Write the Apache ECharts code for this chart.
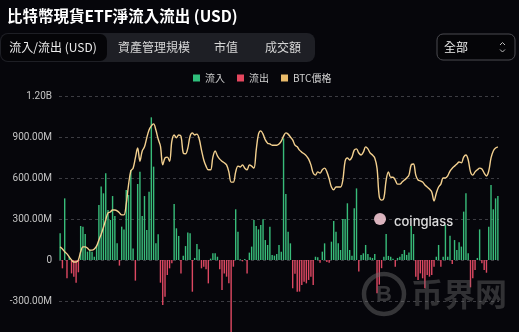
<!DOCTYPE html>
<html>
<head>
<meta charset="utf-8">
<script src="https://cdn.jsdelivr.net/npm/echarts@6/dist/echarts.min.js"></script>
<style>
html,body{margin:0;padding:0;background:#06060b;width:519px;height:332px;overflow:hidden;}
#main{width:519px;height:360px;}
</style>
</head>
<body>
<div id="main"></div>
<script>
// Trading days (category axis, labels hidden in the reference)
const dates = [
'2024-01-11','2024-01-12','2024-01-16','2024-01-17','2024-01-18','2024-01-19','2024-01-22','2024-01-23','2024-01-24','2024-01-25','2024-01-26','2024-01-29','2024-01-30','2024-01-31',
'2024-02-01','2024-02-02','2024-02-05','2024-02-06','2024-02-07','2024-02-08','2024-02-09','2024-02-12','2024-02-13','2024-02-14','2024-02-15','2024-02-16','2024-02-20','2024-02-21','2024-02-22','2024-02-23','2024-02-26','2024-02-27','2024-02-28','2024-02-29',
'2024-03-01','2024-03-04','2024-03-05','2024-03-06','2024-03-07','2024-03-08','2024-03-11','2024-03-12','2024-03-13','2024-03-14','2024-03-15','2024-03-18','2024-03-19','2024-03-20','2024-03-21','2024-03-22','2024-03-25','2024-03-26','2024-03-27','2024-03-28',
'2024-04-01','2024-04-02','2024-04-03','2024-04-04','2024-04-05','2024-04-08','2024-04-09','2024-04-10','2024-04-11','2024-04-12','2024-04-15','2024-04-16','2024-04-17','2024-04-18','2024-04-19','2024-04-22','2024-04-23','2024-04-24','2024-04-25','2024-04-26','2024-04-29','2024-04-30',
'2024-05-01','2024-05-02','2024-05-03','2024-05-06','2024-05-07','2024-05-08','2024-05-09','2024-05-10','2024-05-13','2024-05-14','2024-05-15','2024-05-16','2024-05-17','2024-05-20','2024-05-21','2024-05-22','2024-05-23','2024-05-24','2024-05-28','2024-05-29','2024-05-30','2024-05-31',
'2024-06-03','2024-06-04','2024-06-05','2024-06-06','2024-06-07','2024-06-10','2024-06-11','2024-06-12','2024-06-13','2024-06-14','2024-06-17','2024-06-18','2024-06-20','2024-06-21','2024-06-24','2024-06-25','2024-06-26','2024-06-27','2024-06-28',
'2024-07-01','2024-07-02','2024-07-03','2024-07-05','2024-07-08','2024-07-09','2024-07-10','2024-07-11','2024-07-12','2024-07-15','2024-07-16','2024-07-17','2024-07-18','2024-07-19','2024-07-22','2024-07-23','2024-07-24','2024-07-25','2024-07-26','2024-07-29','2024-07-30','2024-07-31',
'2024-08-01','2024-08-02','2024-08-05','2024-08-06','2024-08-07','2024-08-08','2024-08-09','2024-08-12','2024-08-13','2024-08-14','2024-08-15','2024-08-16','2024-08-19','2024-08-20','2024-08-21','2024-08-22','2024-08-23','2024-08-26','2024-08-27','2024-08-28','2024-08-29','2024-08-30',
'2024-09-03','2024-09-04','2024-09-05','2024-09-06','2024-09-09','2024-09-10','2024-09-11','2024-09-12','2024-09-13','2024-09-16','2024-09-17','2024-09-18','2024-09-19','2024-09-20','2024-09-23','2024-09-24','2024-09-25','2024-09-26','2024-09-27','2024-09-30',
'2024-10-01','2024-10-02','2024-10-03','2024-10-04','2024-10-07','2024-10-08','2024-10-09','2024-10-10','2024-10-11','2024-10-14','2024-10-15','2024-10-16'
];

// Daily net flow, USD millions (positive = inflow, negative = outflow)
const netFlow = [
195,-61,451,-134,25,-98,-122,-166,-90,249,
244,190,61,73,61,24,110,402,537,488,
634,366,293,468,322,122,-41,244,224,512,
476,659,85,-151,556,646,322,468,220,500,
1044,683,122,188,-166,-329,-268,-110,-61,-24,
410,232,176,-98,32,102,202,195,-232,15,
117,78,-61,-49,-68,-171,10,49,49,24,
-68,-220,-98,-122,-171,-563,-49,371,207,5,
-10,8,-98,54,98,293,249,224,256,298,
146,110,244,37,32,44,110,60,890,483,
207,122,-207,-100,-232,-231,-183,-159,-171,-146,
-122,-183,24,20,-20,61,122,-15,-20,134,
285,207,122,73,300,300,415,73,32,378,
524,-85,37,49,110,44,20,15,44,-244,
-180,-60,24,190,30,24,10,-49,15,24,
44,73,37,54,249,190,-122,-146,-98,-134,
-207,-110,-122,-110,-49,24,110,-49,24,256,
24,178,-30,146,73,129,98,354,488,49,
-200,-134,-73,15,224,-24,-73,-93,244,549,
371,451,468
];

// BTC price, USD
const btcPrice = [
43200,42700,42000,41500,40700,40000,39500,39500,40000,42000,
43200,43200,42900,42400,42400,42700,43400,44900,46300,48000,
49800,51500,51700,52200,52200,52000,51500,51000,51000,53700,
58300,61700,62400,64900,67300,64100,66600,67600,69800,71700,
72700,73200,71700,69500,67800,63200,64900,65100,64100,69000,
70500,69800,70500,70200,66100,65900,67300,70200,71000,70500,
70700,69500,66800,64400,62900,62000,62000,65100,66600,65400,
64600,64100,63700,63200,61500,59000,59000,61500,62900,62700,
63200,62400,62000,63200,62900,62400,66800,70700,71500,70700,
69300,68500,68300,68000,68000,68000,68300,69000,70200,71000,
70700,70000,69300,68000,67600,66800,66300,65900,65400,64600,
63200,61200,60700,61500,61200,62000,62400,61500,59800,57800,
57100,57800,57800,57800,59500,64100,64900,64400,65100,66800,
67100,66100,65600,66300,67600,67100,66100,65600,64900,62400,
55400,54600,55100,59500,61500,60200,60200,59500,58500,58500,
59000,59500,60000,60700,63200,63400,60700,59500,59300,59000,
58300,57800,57300,56600,54400,56300,57800,58500,60000,60000,
60500,61700,62400,62900,63400,63900,63700,65100,65600,64400,
61500,60700,61500,62000,62400,62200,61200,60500,61700,64900,
66600,67300,67600
];

const flowTicks = { min: -600, max: 1200, interval: 300 };
const tabLabels = ['流入/流出 (USD)', '資產管理規模', '市值', '成交額'];
const seriesNames = ['流入', '流出', 'BTC價格'];

const inflow = netFlow.map(v => v > 0 ? v : '-');
const outflow = netFlow.map(v => v < 0 ? v : '-');

const CJK = "'Noto Sans CJK TC', 'Noto Sans', sans-serif";
const chart = echarts.init(document.getElementById('main'), null, { renderer: 'canvas' });

const tabCenters = [53, 154, 226, 283];

chart.setOption({
  backgroundColor: '#06060b',
  animation: false,
  textStyle: { fontFamily: CJK },
  title: {
    text: '比特幣現貨ETF淨流入流出 (USD)',
    left: 2, top: 3,
    textStyle: { color: '#ffffff', fontSize: 15.5, fontWeight: 'bold', fontFamily: CJK }
  },
  legend: {
    top: 68, left: 188,
    icon: 'rect', itemWidth: 7, itemHeight: 7, itemGap: 12,
    textStyle: { color: '#d0d0d0', fontSize: 10, fontFamily: CJK },
    data: [
      { name: seriesNames[0], itemStyle: { color: '#2fbf7c' } },
      { name: seriesNames[1], itemStyle: { color: '#e5475f' } },
      { name: seriesNames[2], itemStyle: { color: '#e9bb6a' } }
    ]
  },
  grid: { left: 59, right: 20, top: 96, bottom: 18 },
  xAxis: {
    type: 'category', data: dates, boundaryGap: true,
    axisLine: { show: false }, axisTick: { show: false }, axisLabel: { show: false },
    splitLine: { show: false }
  },
  yAxis: [
    {
      type: 'value', min: flowTicks.min, max: flowTicks.max, interval: flowTicks.interval,
      axisLine: { show: false }, axisTick: { show: false },
      axisLabel: {
        color: '#c4c4c4', fontSize: 10, margin: 7, fontFamily: 'Roboto, sans-serif',
        formatter: v => v === 0 ? '0' : (Math.abs(v) >= 1000 ? (v / 1000).toFixed(2) + 'B' : v.toFixed(2) + 'M')
      },
      splitLine: { lineStyle: { color: '#3c3c42', type: [3, 3], width: 1 } }
    },
    { type: 'value', min: 20000, max: 80000, show: false, splitLine: { show: false } }
  ],
  series: [
    {
      name: seriesNames[0], type: 'bar', data: inflow, barWidth: '62%', barGap: '-100%',
      itemStyle: { color: '#38bc7a' }
    },
    {
      name: seriesNames[1], type: 'bar', data: outflow, barWidth: '62%', barGap: '-100%',
      itemStyle: { color: '#dd4862' }
    },
    {
      name: seriesNames[2], type: 'line', yAxisIndex: 1, data: btcPrice,
      smooth: 0.35, symbol: 'none', z: 5,
      lineStyle: { color: '#f3d08f', width: 1.4 },
      itemStyle: { color: '#e9bb6a' }
    }
  ],
  graphic: [
    { type: 'rect', shape: { x: 0, y: 33, width: 315, height: 29, r: 8 }, style: { fill: '#1e1f25' }, z: 1 },
    { type: 'rect', shape: { x: 1, y: 34, width: 106, height: 27, r: 7 }, style: { fill: '#050508' }, z: 2 },
    ...tabLabels.map((t, i) => ({
      type: 'text', x: tabCenters[i], y: 47.5, z: 3,
      style: { text: t, fill: i === 0 ? '#ececec' : '#d6d6d6', font: '12px ' + CJK, textAlign: 'center', textVerticalAlign: 'middle' }
    })),
    { type: 'rect', shape: { x: 437, y: 34, width: 78, height: 26, r: 6 }, style: { fill: '#050508', stroke: '#4a4a50', lineWidth: 1 }, z: 2 },
    { type: 'text', x: 444, y: 47, z: 3, style: { text: '全部', fill: '#ececec', font: '12px ' + CJK, textVerticalAlign: 'middle' } },
    { type: 'polyline', shape: { points: [[500, 45], [502.5, 42.5], [505, 45]] }, style: { stroke: '#bbbbbb', lineWidth: 1, fill: null }, z: 3 },
    { type: 'polyline', shape: { points: [[500, 49.5], [502.5, 52], [505, 49.5]] }, style: { stroke: '#bbbbbb', lineWidth: 1, fill: null }, z: 3 },
    // watermarks
    { type: 'circle', shape: { cx: 380, cy: 219, r: 6 }, style: { fill: '#f2c7d2', opacity: 0.9 }, z: 20 },
    { type: 'text', x: 394, y: 222, z: 20, style: { text: 'coinglass', fill: '#f4f4f4', font: '500 13px Inter, sans-serif', textVerticalAlign: 'middle', opacity: 0.9 } },
    { type: 'circle', shape: { cx: 384, cy: 294, r: 20 }, style: { fill: 'rgba(0,0,0,0)', stroke: 'rgba(110,110,110,0.45)', lineWidth: 4.5 }, z: 20 },
    { type: 'text', x: 384, y: 295, z: 20, style: { text: 'B', fill: 'rgba(110,110,110,0.45)', font: 'bold 22px sans-serif', textAlign: 'center', textVerticalAlign: 'middle' } },
    { type: 'text', x: 411, y: 294, z: 20, style: { text: '币界网', fill: 'rgba(110,110,110,0.42)', font: 'bold 32px "Noto Sans CJK SC", sans-serif', textVerticalAlign: 'middle' } }
  ]
});
</script>
</body>
</html>
